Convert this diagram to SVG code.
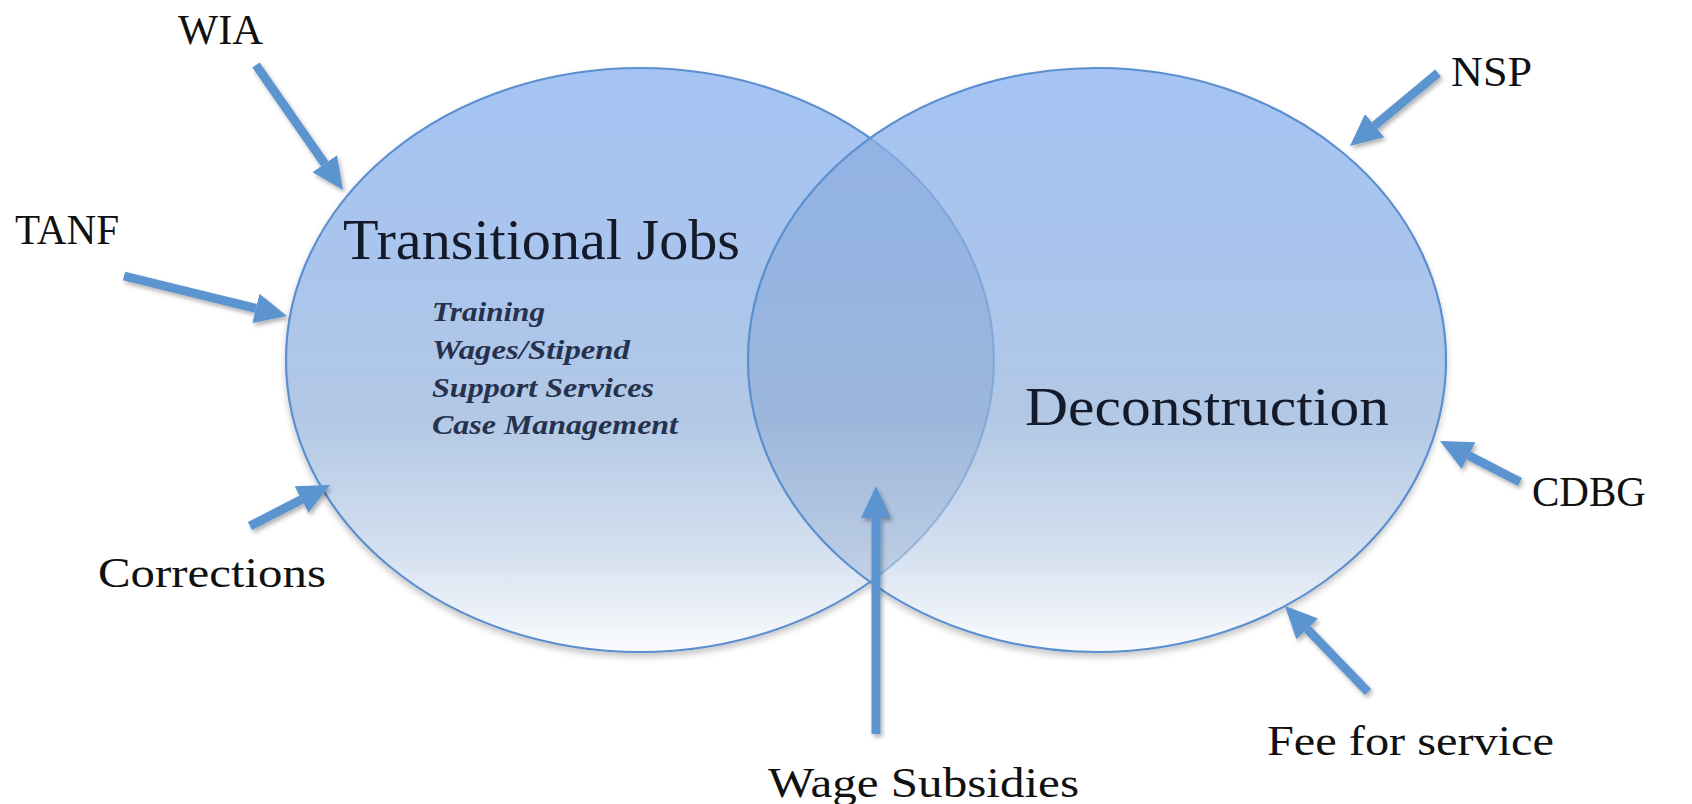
<svg xmlns="http://www.w3.org/2000/svg" width="1692" height="804" viewBox="0 0 1692 804">
  <style>
    .label { font-family: "Liberation Serif", "Times New Roman", serif; fill: #111111; }
    .title { font-family: "Liberation Serif", "Times New Roman", serif; fill: #141a2a; }
    .item { font-family: "Liberation Serif", "Times New Roman", serif; font-style: italic; font-weight: bold; fill: #26324d; }
    .rim { fill: none; stroke: #5b8fcf; stroke-width: 2.2; }
    .arrow { stroke: #5b94d0; stroke-width: 9; stroke-linecap: butt; fill: none; marker-end: url(#head); }
  </style>
  <defs>
    <linearGradient id="fillGrad" x1="0" y1="0" x2="0" y2="1">
      <stop offset="0" stop-color="#a5c4f4"/>
      <stop offset="0.35" stop-color="#aac5ec"/>
      <stop offset="0.6" stop-color="#b2c8e5"/>
      <stop offset="0.82" stop-color="#d3dfef"/>
      <stop offset="1" stop-color="#fbfcfe"/>
    </linearGradient>
    <clipPath id="rightClip">
      <ellipse cx="1097" cy="360" rx="349" ry="292"/>
    </clipPath>
    <filter id="softShadow" x="-10%" y="-10%" width="120%" height="125%">
      <feDropShadow dx="0" dy="4" stdDeviation="3" flood-color="#000000" flood-opacity="0.22"/>
    </filter>
    <filter id="arrowShadow" x="-20%" y="-20%" width="140%" height="140%">
      <feDropShadow dx="2" dy="3" stdDeviation="2" flood-color="#000000" flood-opacity="0.3"/>
    </filter>
    <marker id="head" markerUnits="userSpaceOnUse" markerWidth="32" markerHeight="30" viewBox="0 0 32 30" refX="0" refY="15" orient="auto">
      <path d="M0,0 L32,15 L0,30 Z" fill="#5b94d0"/>
    </marker>
  </defs>

  <!-- the two overlapping circles -->
  <g id="circles" filter="url(#softShadow)">
    <g id="transitional-jobs">
      <ellipse cx="640" cy="360" rx="354" ry="292" fill="url(#fillGrad)"/>
      <ellipse class="rim" cx="640" cy="360" rx="354" ry="292"/>
    </g>
    <g id="deconstruction">
      <ellipse cx="1097" cy="360" rx="349" ry="292" fill="url(#fillGrad)"/>
      <!-- shared lens: darker overlap with the faint inner rim of the left circle -->
      <g clip-path="url(#rightClip)">
        <ellipse cx="640" cy="360" rx="354" ry="292" fill="#2c5fa6" fill-opacity="0.16"/>
        <ellipse cx="640" cy="360" rx="354" ry="292" fill="none" stroke="#5b8fcf" stroke-width="2" stroke-opacity="0.45"/>
      </g>
      <ellipse class="rim" cx="1097" cy="360" rx="349" ry="292"/>
    </g>
  </g>

  <!-- circle texts -->
  <g id="tj-text">
    <text class="title" x="343" y="259" font-size="57" textLength="397" lengthAdjust="spacingAndGlyphs">Transitional Jobs</text>
    <text class="item" x="432" y="321" font-size="28" textLength="113" lengthAdjust="spacingAndGlyphs">Training</text>
    <text class="item" x="432" y="359" font-size="28" textLength="198" lengthAdjust="spacingAndGlyphs">Wages/Stipend</text>
    <text class="item" x="432" y="397" font-size="28" textLength="222" lengthAdjust="spacingAndGlyphs">Support Services</text>
    <text class="item" x="432" y="434" font-size="28" textLength="246" lengthAdjust="spacingAndGlyphs">Case Management</text>
  </g>
  <g id="dc-text">
    <text class="title" x="1025" y="425" font-size="55" textLength="364" lengthAdjust="spacingAndGlyphs">Deconstruction</text>
  </g>

  <!-- funding sources -->
  <g id="wia"><text class="label" x="178" y="44" font-size="42" textLength="85" lengthAdjust="spacingAndGlyphs">WIA</text></g>
  <g id="tanf"><text class="label" x="15" y="244" font-size="42" textLength="104" lengthAdjust="spacingAndGlyphs">TANF</text></g>
  <g id="corrections"><text class="label" x="98" y="587" font-size="42" textLength="228" lengthAdjust="spacingAndGlyphs">Corrections</text></g>
  <g id="wage-subsidies"><text class="label" x="768" y="797" font-size="42" textLength="311" lengthAdjust="spacingAndGlyphs">Wage Subsidies</text></g>
  <g id="nsp"><text class="label" x="1451" y="86" font-size="42" textLength="81" lengthAdjust="spacingAndGlyphs">NSP</text></g>
  <g id="cdbg"><text class="label" x="1532" y="506" font-size="42" textLength="114" lengthAdjust="spacingAndGlyphs">CDBG</text></g>
  <g id="fee-for-service"><text class="label" x="1267" y="755" font-size="42" textLength="287" lengthAdjust="spacingAndGlyphs">Fee for service</text></g>

  <!-- arrows: each line stops where the marker head begins -->
  <g id="connectors" filter="url(#arrowShadow)">
    <line class="arrow" x1="256" y1="65" x2="324.7" y2="163.7"/>
    <line class="arrow" x1="124" y1="276" x2="255.9" y2="308.4"/>
    <line class="arrow" x1="250" y1="526" x2="301.5" y2="499.6"/>
    <line class="arrow" x1="876" y1="734" x2="876" y2="518"/>
    <line class="arrow" x1="1438" y1="73" x2="1374.6" y2="125.6"/>
    <line class="arrow" x1="1520" y1="482" x2="1468.5" y2="455.6"/>
    <line class="arrow" x1="1368" y1="692" x2="1307.2" y2="629"/>
  </g>
</svg>
